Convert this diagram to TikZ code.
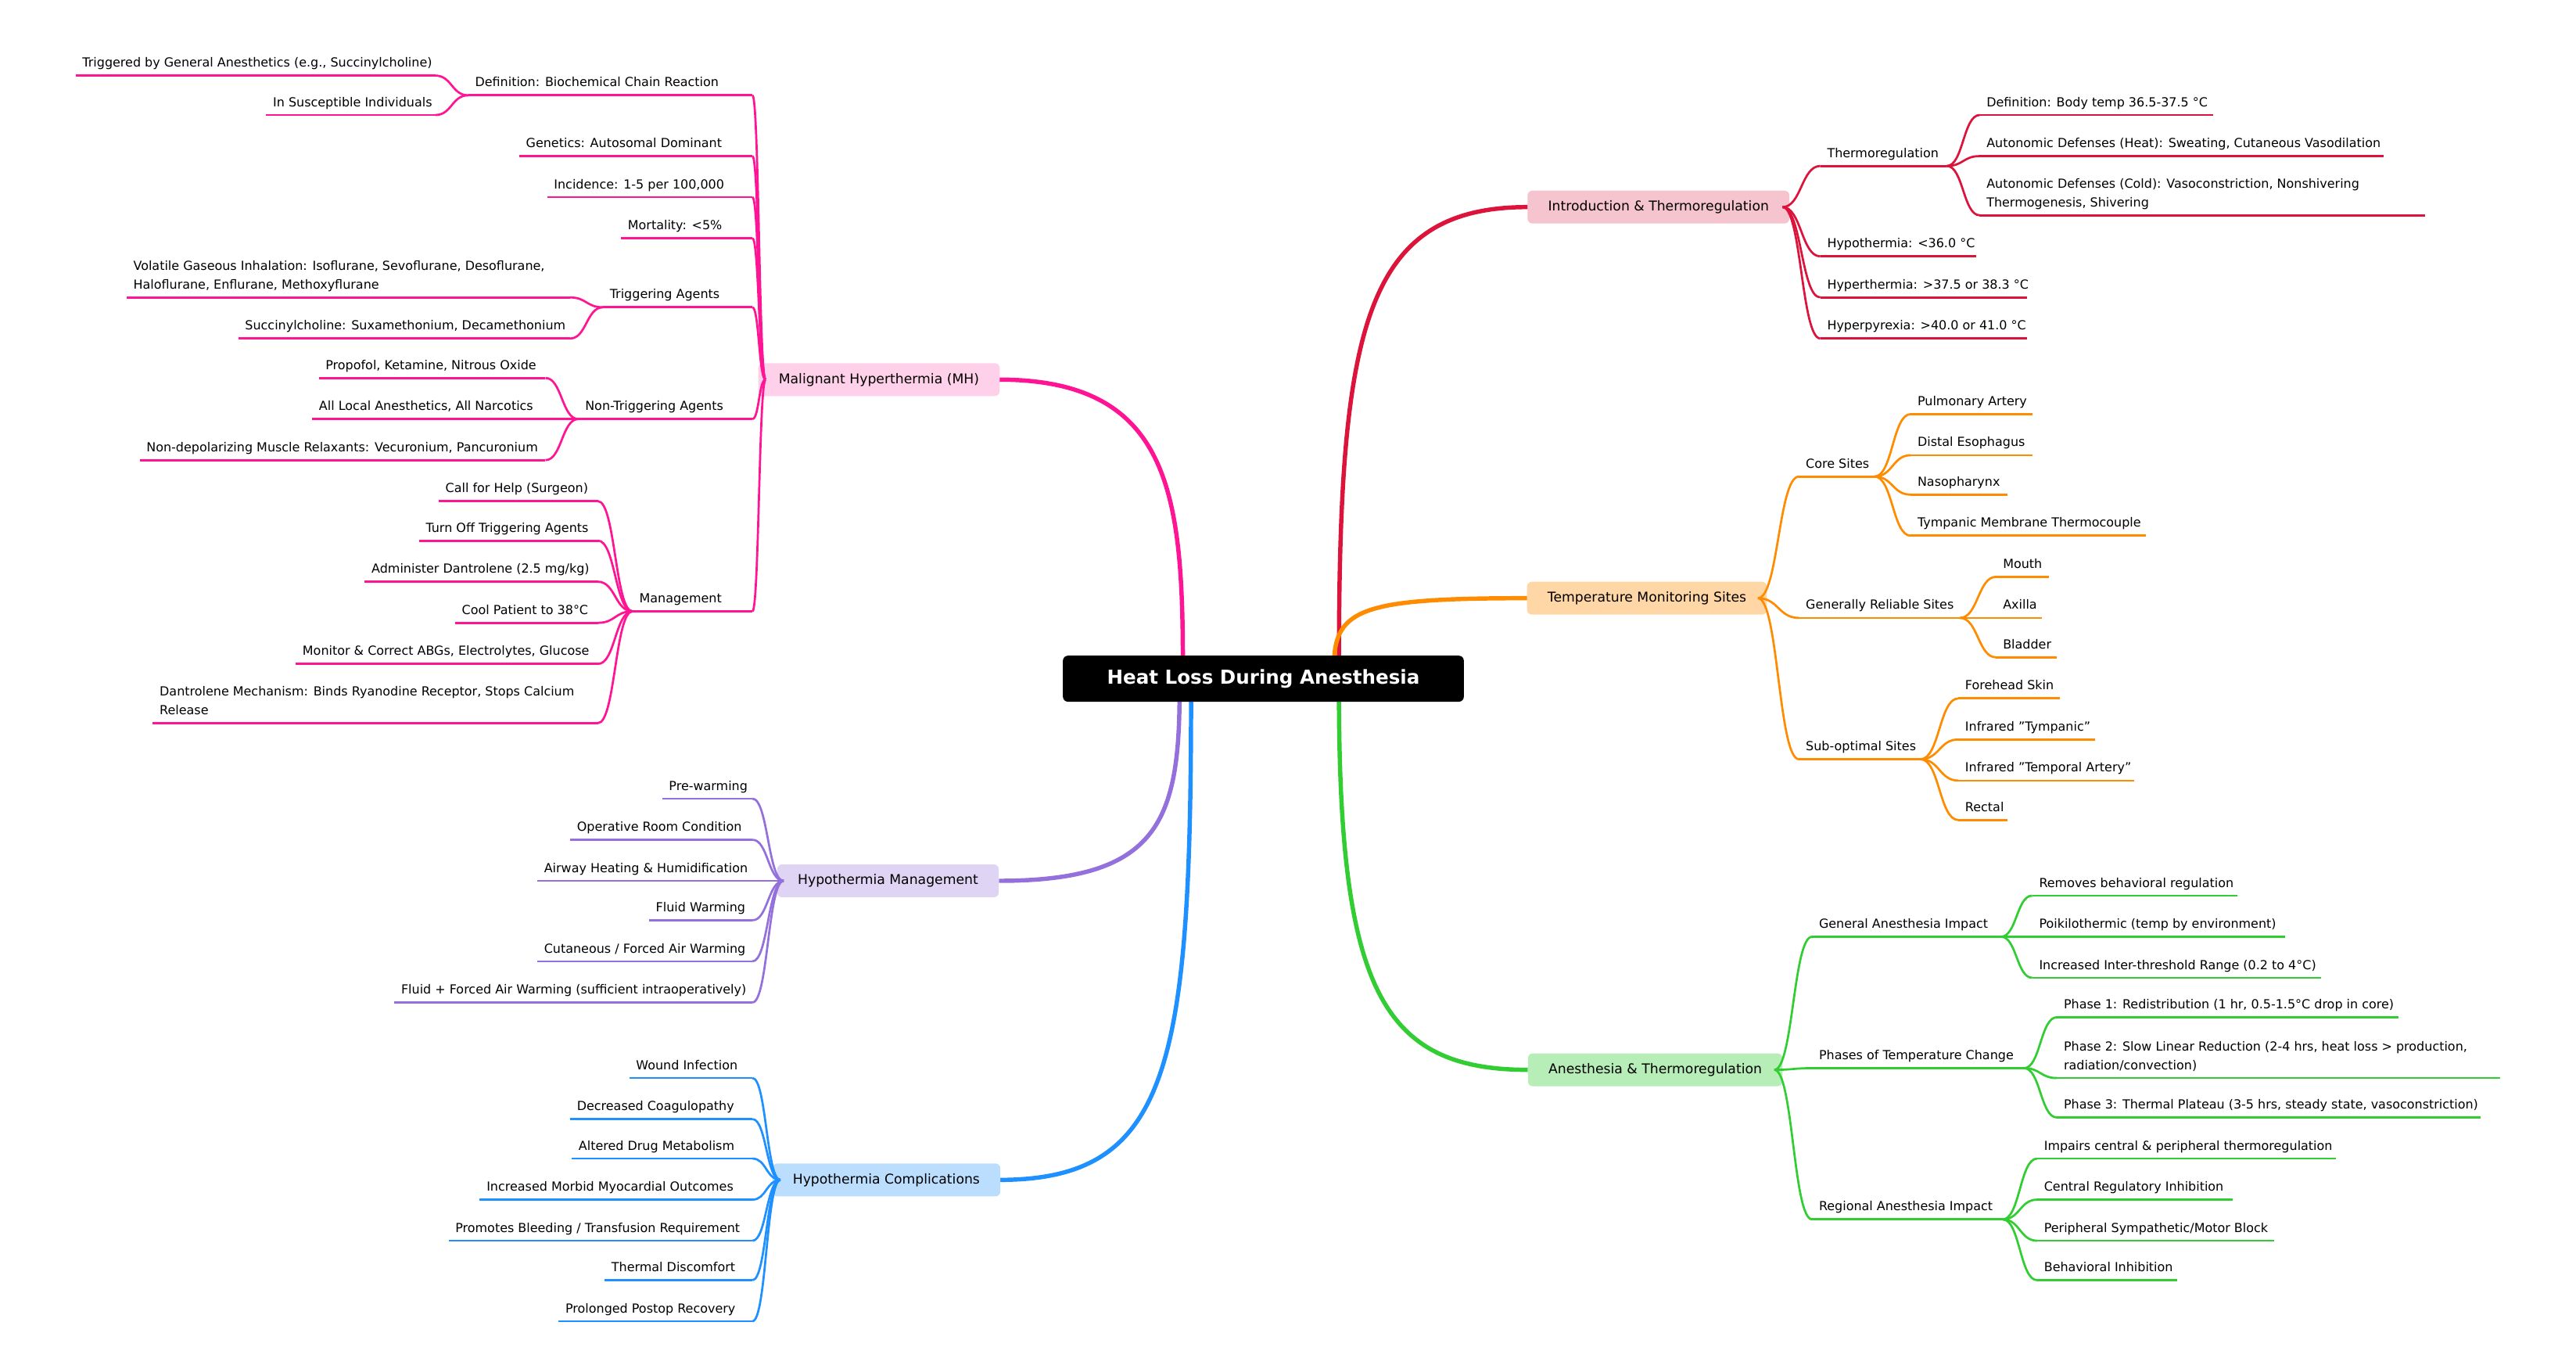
\documentclass[tikz,border=0pt]{standalone}
\usepackage{fontspec}
\setmainfont{DejaVu Sans}
\usetikzlibrary{calc}
\definecolor{cR}{HTML}{DC143C}\definecolor{cO}{HTML}{FF8C00}\definecolor{cG}{HTML}{32CD32}
\definecolor{cP}{HTML}{FF1493}\definecolor{cV}{HTML}{9370DB}\definecolor{cB}{HTML}{1E90FF}
\tikzset{
 sub/.style={line width=1.3pt},
 main/.style={line width=2.6pt},
 lbl/.style={anchor=south west,inner sep=0pt,text depth=0pt,align=left,font=\fontsize{7.6}{11.5}\selectfont},
 mnode/.style={rounded corners=3pt,minimum height=20pt,inner xsep=12.5pt,font=\fontsize{8.2}{10}\selectfont}
}
\newcommand\lf[6]{\coordinate (#1-l) at (#2,#4);\coordinate (#1-r) at (#3,#4);
 \draw[sub,#5] (#1-l) -- (#1-r);
 \node[lbl] (#1) at ([xshift=4pt,yshift=5pt]#1-l) {#6};}
\newcommand\cn[3]{\draw[sub,#3] let \p1=(#1),\p2=(#2) in (\p1) .. controls ({0.5*\x1+0.5*\x2},\y1) and ({0.5*\x1+0.5*\x2},\y2) .. (\p2);}
\begin{document}
\begin{tikzpicture}[x=1pt,y=-1pt]
\useasboundingbox (0,0) rectangle (1568,826);
% main connectors
\draw[main,cR] (815,405) .. controls (815,200) and (830,126) .. (930,126);
\draw[main,cO] (812,405) .. controls (812,370) and (830,364) .. (930,364);
\draw[main,cG] (815,420) .. controls (815,600) and (840,651) .. (930,651);
\draw[main,cP] (608,231) .. controls (712,231) and (720,300) .. (720,405);
\draw[main,cV] (608,536) .. controls (705,536) and (718,500) .. (718,420);
\draw[main,cB] (608,718) .. controls (712,718) and (725,650) .. (725,420);
\node[fill=black,text=white,rounded corners=3pt,minimum width=244pt,minimum height=28pt,font=\fontsize{11.7}{14}\selectfont\bfseries] (c) at (769,413) {Heat Loss During Anesthesia};
% main nodes
\node[mnode,fill=cR!25] (intro) at (1009.5,126) {Introduction \& Thermoregulation};
\node[mnode,fill=cO!35] (temp) at (1002.5,364) {Temperature Monitoring Sites};
\node[mnode,fill=cG!35] (anes) at (1007.5,651) {Anesthesia \& Thermoregulation};
\node[mnode,fill=cP!20] (mh) at (535,231) {Malignant Hyperthermia (MH)};
\node[mnode,fill=cV!30] (hm) at (540.5,536) {Hypothermia Management};
\node[mnode,fill=cB!30] (hc) at (539.5,718) {Hypothermia Complications};
\coordinate (oI) at (1085,126);\coordinate (oT) at (1070,364);\coordinate (oA) at (1080,651);
\coordinate (oM) at (466,231);\coordinate (oH) at (477,536);\coordinate (oC) at (475,718);
% intro
\lf{th}{1108}{1185}{101}{cR}{Thermoregulation}
\lf{th1}{1205}{1347}{70}{cR}{Definition: Body temp 36.5-37.5 °C}
\lf{th2}{1205}{1451}{95}{cR}{Autonomic Defenses (Heat): Sweating, Cutaneous Vasodilation}
\lf{th3}{1205}{1476}{131}{cR}{Autonomic Defenses (Cold): Vasoconstriction, Nonshivering\\Thermogenesis, Shivering}
\lf{hy}{1108}{1203}{156}{cR}{Hypothermia: <36.0 °C}
\lf{hr}{1108}{1234}{181}{cR}{Hyperthermia: >37.5 or 38.3 °C}
\lf{hp}{1108}{1234}{206}{cR}{Hyperpyrexia: >40.0 or 41.0 °C}
\foreach \k in {th,hy,hr,hp}{\cn{oI}{\k-l}{cR}}
\foreach \k in {th1,th2,th3}{\cn{th-r}{\k-l}{cR}}
% temp
\lf{cs}{1095}{1141}{290}{cO}{Core Sites}
\lf{cs1}{1163}{1237}{252}{cO}{Pulmonary Artery}
\lf{cs2}{1163}{1237}{277}{cO}{Distal Esophagus}
\lf{cs3}{1163}{1222}{301}{cO}{Nasopharynx}
\lf{cs4}{1163}{1306}{326}{cO}{Tympanic Membrane Thermocouple}
\lf{gr}{1095}{1193}{376}{cO}{Generally Reliable Sites}
\lf{gr1}{1215}{1247}{351}{cO}{Mouth}
\lf{gr2}{1215}{1243}{376}{cO}{Axilla}
\lf{gr3}{1215}{1252}{400}{cO}{Bladder}
\lf{so}{1095}{1169}{462}{cO}{Sub-optimal Sites}
\lf{so1}{1192}{1254}{425}{cO}{Forehead Skin}
\lf{so2}{1192}{1275}{450}{cO}{Infrared "Tympanic"}
\lf{so3}{1192}{1299}{475}{cO}{Infrared "Temporal Artery"}
\lf{so4}{1192}{1222}{499}{cO}{Rectal}
\foreach \k in {cs,gr,so}{\cn{oT}{\k-l}{cO}}
\foreach \k in {cs1,cs2,cs3,cs4}{\cn{cs-r}{\k-l}{cO}}
\foreach \k in {gr1,gr2,gr3}{\cn{gr-r}{\k-l}{cO}}
\foreach \k in {so1,so2,so3,so4}{\cn{so-r}{\k-l}{cO}}
% anesthesia
\lf{ga}{1103}{1218}{570}{cG}{General Anesthesia Impact}
\lf{ga1}{1237}{1362}{545}{cG}{Removes behavioral regulation}
\lf{ga2}{1237}{1391}{570}{cG}{Poikilothermic (temp by environment)}
\lf{ga3}{1237}{1413}{595}{cG}{Increased Inter-threshold Range (0.2 to 4°C)}
\lf{ph}{1103}{1232}{650}{cG}{Phases of Temperature Change}
\lf{ph1}{1252}{1460}{619}{cG}{Phase 1: Redistribution (1 hr, 0.5-1.5°C drop in core)}
\lf{ph2}{1252}{1522}{656}{cG}{Phase 2: Slow Linear Reduction (2-4 hrs, heat loss > production,\\radiation/convection)}
\lf{ph3}{1252}{1510}{680}{cG}{Phase 3: Thermal Plateau (3-5 hrs, steady state, vasoconstriction)}
\lf{ra}{1103}{1219}{742}{cG}{Regional Anesthesia Impact}
\lf{ra1}{1240}{1422}{705}{cG}{Impairs central \& peripheral thermoregulation}
\lf{ra2}{1240}{1359}{730}{cG}{Central Regulatory Inhibition}
\lf{ra3}{1240}{1384}{755}{cG}{Peripheral Sympathetic/Motor Block}
\lf{ra4}{1240}{1325}{779}{cG}{Behavioral Inhibition}
\foreach \k in {ga,ph,ra}{\cn{oA}{\k-l}{cG}}
\foreach \k in {ga1,ga2,ga3}{\cn{ga-r}{\k-l}{cG}}
\foreach \k in {ph1,ph2,ph3}{\cn{ph-r}{\k-l}{cG}}
\foreach \k in {ra1,ra2,ra3,ra4}{\cn{ra-r}{\k-l}{cG}}
% MH
\lf{df}{285}{458}{58}{cP}{Definition: Biochemical Chain Reaction}
\lf{df1}{46}{265}{46}{cP}{Triggered by General Anesthetics (e.g., Succinylcholine)}
\lf{df2}{162}{265}{70}{cP}{In Susceptible Individuals}
\lf{ge}{316}{458}{95}{cP}{Genetics: Autosomal Dominant}
\lf{in}{333}{458}{120}{cP}{Incidence: 1-5 per 100,000}
\lf{mo}{378}{458}{145}{cP}{Mortality: <5\%}
\lf{ta}{367}{458}{187}{cP}{Triggering Agents}
\lf{ta1}{77}{347}{181}{cP}{Volatile Gaseous Inhalation: Isoflurane, Sevoflurane, Desoflurane,\\Haloflurane, Enflurane, Methoxyflurane}
\lf{ta2}{145}{347}{206}{cP}{Succinylcholine: Suxamethonium, Decamethonium}
\lf{nt}{352}{458}{255}{cP}{Non-Triggering Agents}
\lf{nt1}{194}{332}{230}{cP}{Propofol, Ketamine, Nitrous Oxide}
\lf{nt2}{190}{332}{255}{cP}{All Local Anesthetics, All Narcotics}
\lf{nt3}{85}{332}{280}{cP}{Non-depolarizing Muscle Relaxants: Vecuronium, Pancuronium}
\lf{mg}{385}{458}{372}{cP}{Management}
\lf{mg1}{267}{364}{305}{cP}{Call for Help (Surgeon)}
\lf{mg2}{255}{364}{329}{cP}{Turn Off Triggering Agents}
\lf{mg3}{222}{364}{354}{cP}{Administer Dantrolene (2.5 mg/kg)}
\lf{mg4}{277}{364}{379}{cP}{Cool Patient to 38°C}
\lf{mg5}{180}{364}{404}{cP}{Monitor \& Correct ABGs, Electrolytes, Glucose}
\lf{mg6}{93}{364}{440}{cP}{Dantrolene Mechanism: Binds Ryanodine Receptor, Stops Calcium\\Release}
\foreach \k in {df,ge,in,mo,ta,nt,mg}{\cn{oM}{\k-r}{cP}}
\foreach \k in {df1,df2}{\cn{df-l}{\k-r}{cP}}
\foreach \k in {ta1,ta2}{\cn{ta-l}{\k-r}{cP}}
\foreach \k in {nt1,nt2,nt3}{\cn{nt-l}{\k-r}{cP}}
\foreach \k in {mg1,mg2,mg3,mg4,mg5,mg6}{\cn{mg-l}{\k-r}{cP}}
% hypothermia management
\lf{hm1}{403}{458}{486}{cV}{Pre-warming}
\lf{hm2}{347}{458}{511}{cV}{Operative Room Condition}
\lf{hm3}{327}{458}{536}{cV}{Airway Heating \& Humidification}
\lf{hm4}{395}{458}{560}{cV}{Fluid Warming}
\lf{hm5}{327}{458}{585}{cV}{Cutaneous / Forced Air Warming}
\lf{hm6}{240}{458}{610}{cV}{Fluid + Forced Air Warming (sufficient intraoperatively)}
\foreach \k in {hm1,hm2,hm3,hm4,hm5,hm6}{\cn{oH}{\k-r}{cV}}
% complications
\lf{hc1}{383}{458}{656}{cB}{Wound Infection}
\lf{hc2}{347}{458}{681}{cB}{Decreased Coagulopathy}
\lf{hc3}{348}{458}{705}{cB}{Altered Drug Metabolism}
\lf{hc4}{292}{458}{730}{cB}{Increased Morbid Myocardial Outcomes}
\lf{hc5}{273}{458}{755}{cB}{Promotes Bleeding / Transfusion Requirement}
\lf{hc6}{368}{458}{779}{cB}{Thermal Discomfort}
\lf{hc7}{340}{458}{804}{cB}{Prolonged Postop Recovery}
\foreach \k in {hc1,hc2,hc3,hc4,hc5,hc6,hc7}{\cn{oC}{\k-r}{cB}}
\end{tikzpicture}
\end{document}
